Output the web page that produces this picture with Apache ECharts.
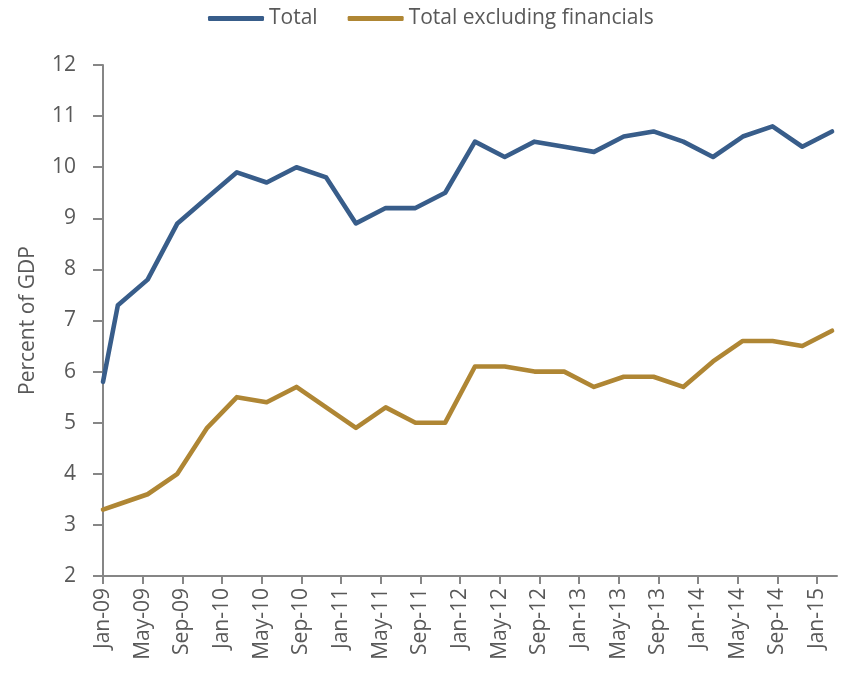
<!DOCTYPE html>
<html>
<head>
<meta charset="utf-8">
<script src="https://cdn.jsdelivr.net/npm/echarts@6/dist/echarts.min.js"></script>
<style>
  html, body { margin: 0; padding: 0; background: #ffffff; }
  #chart { width: 844px; height: 676px; }
</style>
</head>
<body>
<div id="chart"></div>
<script>
// Axis tick labels, one every four months starting Jan-09
const tickLabels = ['Jan-09', 'May-09', 'Sep-09', 'Jan-10', 'May-10', 'Sep-10', 'Jan-11',
  'May-11', 'Sep-11', 'Jan-12', 'May-12', 'Sep-12', 'Jan-13', 'May-13', 'Sep-13',
  'Jan-14', 'May-14', 'Sep-14', 'Jan-15'];

// Observation dates, as months elapsed since the start of Jan-09
const obsMonths = [0, 1.5, 4.5, 7.5, 10.5, 13.5, 16.5, 19.5, 22.5, 25.5, 28.5, 31.5, 34.5,
  37.5, 40.5, 43.5, 46.5, 49.5, 52.5, 55.5, 58.5, 61.5, 64.5, 67.5, 70.5, 73.5];

// Percent of GDP
const totalValues = [5.8, 7.3, 7.8, 8.9, 9.4, 9.9, 9.7, 10.0, 9.8, 8.9, 9.2, 9.2, 9.5,
  10.5, 10.2, 10.5, 10.4, 10.3, 10.6, 10.7, 10.5, 10.2, 10.6, 10.8, 10.4, 10.7];
const exFinancialsValues = [3.3, 3.4, 3.6, 4.0, 4.9, 5.5, 5.4, 5.7, 5.3, 4.9, 5.3, 5.0, 5.0,
  6.1, 6.1, 6.0, 6.0, 5.7, 5.9, 5.9, 5.7, 6.2, 6.6, 6.6, 6.5, 6.8];

const seriesNames = ['Total', 'Total excluding financials'];
const seriesColors = ['#385D8A', '#AF8634'];

const tickMonths = tickLabels.map((_, i) => i * 4);
const axisGrey = '#868686';
const textGrey = '#595959';
const fontFamily = '"Open Sans", "Noto Sans", sans-serif';
const fontSize = 21;

function pairs(values) {
  return values.map((v, i) => [obsMonths[i], v]);
}

const chart = echarts.init(document.getElementById('chart'), null, { renderer: 'canvas' });

chart.setOption({
  animation: false,
  backgroundColor: '#ffffff',
  textStyle: { fontFamily: fontFamily },
  legend: {
    top: 3,
    left: 203,
    itemWidth: 56,
    itemHeight: 5,
    itemGap: 30,
    icon: 'roundRect',
    textStyle: { color: textGrey, fontSize: fontSize, fontFamily: fontFamily },
    data: seriesNames
  },
  grid: { left: 103, right: 7, top: 65, bottom: 100, containLabel: false },
  xAxis: {
    type: 'value',
    min: 0,
    max: 74,
    interval: 4,
    splitLine: { show: false },
    axisLine: { show: true, lineStyle: { color: axisGrey, width: 2 } },
    axisTick: {
      show: true, length: 8, inside: false,
      customValues: tickMonths,
      lineStyle: { color: axisGrey, width: 2 }
    },
    axisLabel: {
      rotate: 90,
      margin: 12,
      color: textGrey,
      fontSize: fontSize,
      fontFamily: fontFamily,
      customValues: tickMonths,
      formatter: v => tickLabels[Math.round(v / 4)] || ''
    }
  },
  yAxis: {
    type: 'value',
    min: 2,
    max: 12,
    interval: 1,
    name: 'Percent of GDP',
    nameLocation: 'middle',
    nameGap: 64,
    nameRotate: 90,
    nameTextStyle: { color: textGrey, fontSize: fontSize, fontFamily: fontFamily },
    splitLine: { show: false },
    axisLine: { show: true, lineStyle: { color: axisGrey, width: 2 } },
    axisTick: { show: true, length: 10, inside: false, lineStyle: { color: axisGrey, width: 2 } },
    axisLabel: { margin: 27, color: textGrey, fontSize: fontSize, fontFamily: fontFamily }
  },
  series: [
    {
      name: seriesNames[0],
      type: 'line',
      data: pairs(totalValues),
      showSymbol: false,
      symbol: 'none',
      color: seriesColors[0],
      lineStyle: { width: 4.6, color: seriesColors[0], join: 'round', cap: 'round' }
    },
    {
      name: seriesNames[1],
      type: 'line',
      data: pairs(exFinancialsValues),
      showSymbol: false,
      symbol: 'none',
      color: seriesColors[1],
      lineStyle: { width: 4.6, color: seriesColors[1], join: 'round', cap: 'round' }
    }
  ]
});
</script>
</body>
</html>
